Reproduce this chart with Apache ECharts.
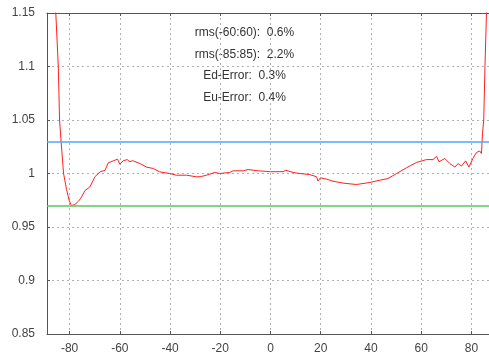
<!DOCTYPE html>
<html>
<head>
<meta charset="utf-8">
<script src="https://cdn.jsdelivr.net/npm/echarts@6/dist/echarts.min.js"></script>
<style>
  html, body { margin: 0; padding: 0; background: #fff; }
  #main { width: 489px; height: 360px; }
</style>
</head>
<body>
<div id="main"></div>
<script>
var angles = [-86.5, -85.5, -84.5, -84.0, -83.4, -82.4, -81.2, -80.2, -79.3, -77.9,
  -76.5, -75.5, -73.9, -71.9, -69.9, -67.9, -65.9, -64.6, -62.6, -60.9,
  -60.0, -58.7, -57.1, -56.0, -54.9, -52.0, -49.4, -46.7, -44.1, -40.1,
  -37.4, -33.4, -29.5, -28.0, -25.5, -22.2, -20.2, -16.2, -14.9, -10.9,
  -8.9, -4.9, 0, 5.0, 6.1, 9.0, 11.7, 15.6, 18.3, 18.9,
  19.9, 22.3, 24.9, 28.9, 34.2, 39.5, 43.5, 46.8, 50.2, 54.1,
  58.1, 58.6, 62.1, 64.7, 66.1, 67.1, 69.4, 71.4, 73.4, 74.7,
  76.0, 77.7, 79.0, 80.6, 82.0, 83.3, 84.0, 84.4, 84.9, 85.4,
  86.0, 86.4];
var ratio = [1.20, 1.15, 1.10, 1.05, 1.03, 1.00, 0.985, 0.975, 0.970, 0.971,
  0.974, 0.977, 0.984, 0.9875, 0.997, 1.0015, 1.003, 1.010, 1.0118, 1.0134,
  1.0087, 1.0118, 1.013, 1.011, 1.012, 1.0093, 1.006, 1.0047, 1.0015, 1.0,
  0.9984, 0.9984, 0.9969, 0.997, 0.9984, 1.001, 1.0, 1.001, 1.0025, 1.0025,
  1.0037, 1.0025, 1.0017, 1.0017, 1.003, 1.001, 1.0, 0.999, 0.997, 0.993,
  0.996, 0.9947, 0.9928, 0.991, 0.9897, 0.9916, 0.9937, 0.9953, 1.0, 1.0053,
  1.0103, 1.009, 1.013, 1.013, 1.016, 1.011, 1.014, 1.0093, 1.006, 1.0093,
  1.007, 1.0118, 1.006, 1.014, 1.0196, 1.021, 1.0187, 1.037, 1.05, 1.10,
  1.15, 1.20];
var upperLimit = 1.03;
var lowerLimit = 0.97;
var xTicks = [-80, -60, -40, -20, 0, 20, 40, 60, 80];
var notes = ['rms(-60:60):  0.6%', 'rms(-85:85):  2.2%', 'Ed-Error:  0.3%', 'Eu-Error:  0.4%'];

var myChart = echarts.init(document.getElementById('main'));

var gridLine = { show: true, lineStyle: { color: '#b0b0b0', type: [2, 3], width: 1 } };
var axisLine = { show: true, onZero: false, lineStyle: { color: '#555', width: 1 } };
var font = 'Liberation Sans, Arial, sans-serif';

var option = {
  animation: false,
  backgroundColor: '#fff',
  grid: { left: 47, top: 13, width: 442, height: 321, containLabel: false },
  xAxis: [{
    type: 'value', min: -89, max: 87,
    axisLine: axisLine,
    axisTick: { show: true, inside: true, length: 3, customValues: xTicks, lineStyle: { color: '#555' } },
    axisLabel: { customValues: xTicks, color: '#444', fontSize: 12, fontFamily: font, margin: 9 },
    splitLine: gridLine
  }, {
    type: 'value', min: -89, max: 87, position: 'top',
    axisLine: axisLine,
    axisTick: { show: true, inside: true, length: 3, customValues: xTicks, lineStyle: { color: '#555' } },
    axisLabel: { show: false },
    splitLine: { show: false }
  }],
  yAxis: {
    type: 'value', min: 0.85, max: 1.15, interval: 0.05,
    axisLine: axisLine,
    axisTick: { show: true, inside: true, length: 3, lineStyle: { color: '#555' } },
    axisLabel: { color: '#444', fontSize: 12, fontFamily: font, margin: 12 },
    splitLine: gridLine
  },
  series: [{
    type: 'line',
    data: angles.map(function (a, i) { return [a, ratio[i]]; }),
    showSymbol: false,
    clip: true,
    lineStyle: { color: '#ff2020', width: 1 },
    markLine: {
      silent: true,
      symbol: 'none',
      label: { show: false },
      data: [
        { yAxis: upperLimit, lineStyle: { color: '#4da6ff', width: 1.5, type: 'solid' } },
        { yAxis: lowerLimit, lineStyle: { color: '#5cc65c', width: 1.5, type: 'solid' } }
      ]
    }
  }],
  graphic: notes.map(function (t, i) {
    return {
      type: 'text', left: 'center', top: 27 + i * 21.5,
      style: { text: t, fill: '#333', font: '12px ' + font, textAlign: 'center' },
      x: 4
    };
  })
};

myChart.setOption(option);
</script>
</body>
</html>
